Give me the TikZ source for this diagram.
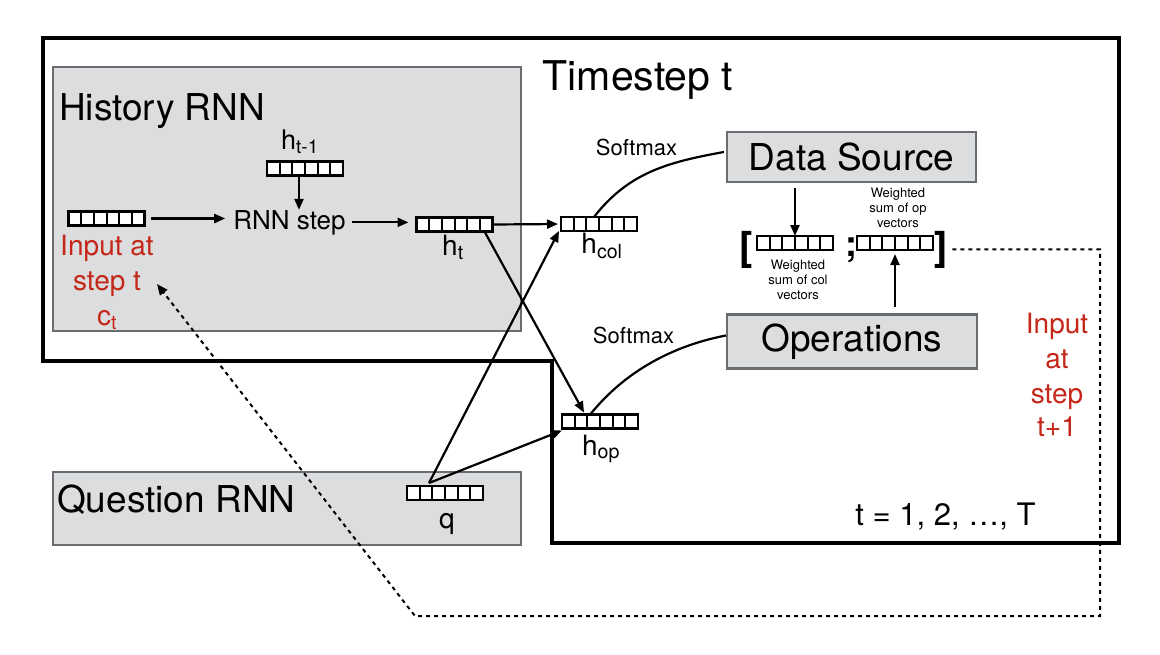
\documentclass[tikz,border=0pt]{standalone}
\usepackage{fontspec}
\setmainfont{TeX Gyre Heros}
\usetikzlibrary{arrows.meta,calc}
\definecolor{boxfill}{RGB}{220,221,223}
\definecolor{boxline}{RGB}{105,108,112}
\definecolor{redtxt}{RGB}{196,38,24}
\newcommand{\fs}[1]{\fontsize{#1}{#1}\selectfont}
\tikzset{
  graybox/.style={draw=boxline, fill=boxfill, line width=2.2pt, inner sep=0pt},
  vec/.style={draw=black, fill=white, line width=2.4pt, minimum width=76pt, minimum height=14pt, inner sep=0pt, outer sep=0pt,
    path picture={
      \foreach \i in {1,...,5}{
        \draw[line width=2pt] ($(path picture bounding box.south west)!\i/6!(path picture bounding box.south east)$) -- ($(path picture bounding box.north west)!\i/6!(path picture bounding box.north east)$);
      }}},
  arr/.style={-{Triangle[length=11pt,width=9pt]}, line width=2.2pt},
  plain/.style={line width=2.2pt},
  dashline/.style={line width=2pt, dash pattern=on 4pt off 4pt, -{Triangle[length=11pt,width=9pt]}},
  lbl/.style={inner sep=0pt, anchor=base},
  redlbl/.style={inner sep=0pt, anchor=base, text=redtxt, font={\fs{28}}},
}
\begin{document}
\begin{tikzpicture}[x=1pt,y=-1pt]
\useasboundingbox (0,0) rectangle (1160,654);

% outer timestep frame
\draw[line width=3.4pt] (43,38) -- (1119,38) -- (1119,543) -- (552,543) -- (552,361) -- (43,361) -- cycle;
\node[lbl, font={\fs{41}}] (tslbl) at (638,90) {Timestep t};

% boxes
\node[graybox, minimum width=468pt, minimum height=264pt] (hist) at (287,199) {};
\node[lbl, anchor=base west, font={\fs{37}}] (histlbl) at (59,120) {History RNN};
\node[graybox, minimum width=468pt, minimum height=73pt] (ques) at (287,508.5) {};
\node[lbl, anchor=base west, font={\fs{37}}] (queslbl) at (57,512) {Question RNN};
\node[graybox, minimum width=249pt, minimum height=50pt, font={\fs{37}}] (ds) at (851.5,157) {Data Source};
\node[graybox, minimum width=250pt, minimum height=54pt, font={\fs{37}}] (ops) at (852,341.5) {Operations};

% vectors
\node[vec] (xin) at (106.5,218.5) {};
\node[vec] (hprev) at (305,168.5) {};
\node[vec] (ht) at (454.5,224.5) {};
\node[vec] (hcol) at (599,224) {};
\node[vec] (hop) at (600,421.5) {};
\node[vec] (q) at (445,493) {};
\node[vec] (vcol) at (795,243) {};
\node[vec] (vop) at (895,243) {};

% labels
\node[lbl, font={\fs{27}}] (hprevlbl) at (300,149) {h\textsubscript{t-1}};
\node[lbl, font={\fs{26}}] (rnnstep) at (289.5,229) {RNN step};
\node[redlbl] (in1) at (107,255) {Input at};
\node[redlbl] (in2) at (107,290) {step t};
\node[redlbl] (in3) at (107,325) {c\textsubscript{t}};
\node[lbl, font={\fs{28}}] (htlbl) at (453,255) {h\textsubscript{t}};
\node[lbl, font={\fs{28}}] (hcollbl) at (602,253) {h\textsubscript{col}};
\node[lbl, font={\fs{28}}] (hoplbl) at (601,455) {h\textsubscript{op}};
\node[lbl, font={\fs{28}}] (qlbl) at (447,528) {q};
\node[lbl, font={\fs{22}}] (sm1) at (636.5,155) {Softmax};
\node[lbl, font={\fs{22}}] (sm2) at (633.5,343) {Softmax};
\node[inner sep=0pt, anchor=north, align=center, font={\fontsize{13}{15}\selectfont}] (wop) at (898,188) {Weighted\\sum of op\\vectors};
\node[inner sep=0pt, anchor=north, align=center, font={\fontsize{13}{15}\selectfont}] (wcol) at (798,260) {Weighted\\sum of col\\vectors};
\node[lbl, font={\fs{40}\bfseries}] (lbr) at (746.5,260) {[};
\node[lbl, font={\fs{36}\bfseries}] (semi) at (851,256) {;};
\node[lbl, font={\fs{40}\bfseries}] (rbr) at (941.5,260) {]};
\node[lbl, font={\fs{31}}] (trange) at (945.5,525) {t = 1, 2, …, T};
\node[redlbl] (nx1) at (1057,333) {Input};
\node[redlbl] (nx2) at (1057,368) {at};
\node[redlbl] (nx3) at (1057,403) {step};
\node[redlbl] (nx4) at (1057,436) {t+1};

% connectors
\coordinate (ha) at ($(hprev.south)+(-6,0)$);
\draw[arr] (ha) -- (ha |- rnnstep.north);
\draw[arr, shorten <=6pt, shorten >=8pt] (xin.east) -- (xin.east -| rnnstep.west);
\draw[arr, shorten <=6pt, shorten >=8pt] (rnnstep.east) -- (rnnstep.east -| ht.west);
\draw[arr, shorten >=3pt] (ht.east) -- (hcol.west);
\draw[arr] ($(ht.south east)+(-8,0)$) -- ($(hop.north west)+(22,-2)$);
\coordinate (qtop) at ($(q.north west)+(22,-3)$);
\draw[arr] (qtop) -- ($(hcol.south west)+(-2,0)$);
\draw[arr] (qtop) -- ($(hop.south west)+(0,2)$);
\draw[arr, shorten <=5pt] (ds.south -| vcol.north) -- (vcol.north);
\draw[arr, shorten <=6pt, shorten >=4pt] (ops.north -| vop.south) -- (vop.south);
\draw[plain] ($(hcol.north west)+(33,0)$) .. controls +(35,-45) and +(-55,10) .. ($(ds.west)+(-2,-5)$);
\draw[plain] ($(hop.north west)+(29,-1)$) .. controls +(35,-43) and +(-52,10) .. ($(ops.west)+(0,-6)$);

% feedback dashed line
\coordinate (dstart) at ($(rbr.east)+(4,0)$);
\coordinate (dtr) at (1100,250);
\coordinate (dbr) at (1100,616);
\coordinate (dbl) at (415,616);
\coordinate (dashend) at (157,284);
\draw[dashline] (dstart) -- (dstart -| dtr) -- (dbr) -- (dbl) -- (dashend);
\end{tikzpicture}
\end{document}
